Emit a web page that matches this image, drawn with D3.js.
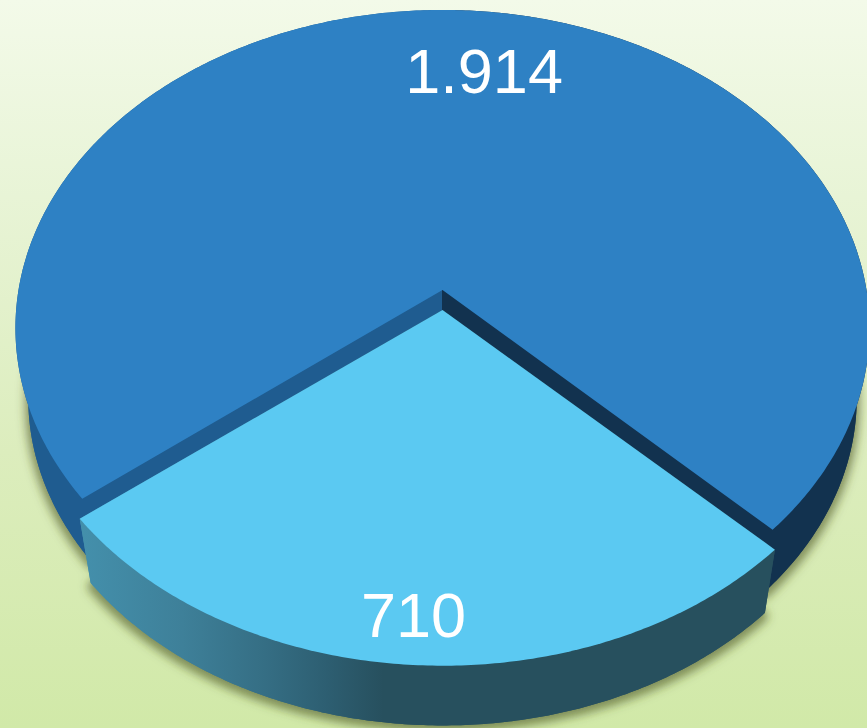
<!DOCTYPE html>
<html>
<head>
<meta charset="utf-8">
<script src="https://cdn.jsdelivr.net/npm/d3@7"></script>
<style>
html,body{margin:0;padding:0;background:#fff;overflow:hidden}
svg{display:block}
text{font-family:"Liberation Sans",Arial,sans-serif;fill:#fff}
</style>
</head>
<body>
<svg id="c" width="867" height="728"></svg>
<script>
// data
const categories = ["A", "B"];
const values = [1914, 710];
const labels = ["1.914", "710"];
const topColors = ["#2e81c4", "#5bc9f2"];

// layout of the perspective pie
const W = 867, H = 728;
const X0 = 442.5, Y0 = 290;      // projected pie centre
const A = 424, B = 313.5, K = 0.1195; // perspective ellipse
const DEPTH_SCALE = 0.97, DEPTH_DY = 71;
const EXPLODE = [0, 0.0633];
const SQUASH = [1, 0.985];     // depth-wise flattening per slice
const START = 231.9 * Math.PI / 180;
const LABEL_RADIUS = [0.77, 0.875];
const LABEL_SHIFT = [4.8, 0.8]; // degrees
const LABEL_SIZE = 63;

const svg = d3.select("#c");
const defs = svg.append("defs");

const bg = defs.append("linearGradient").attr("id", "bg").attr("x1", 0).attr("y1", 0).attr("x2", 0).attr("y2", 1);
[[0, "#f3fae9"], [0.27, "#e8f4d6"], [0.62, "#dcedbd"], [1, "#d1e9a8"]].forEach(s => bg.append("stop").attr("offset", s[0]).attr("stop-color", s[1]));

const rim = defs.append("linearGradient").attr("id", "rim").attr("gradientUnits", "userSpaceOnUse")
  .attr("x1", 0).attr("y1", 0).attr("x2", W).attr("y2", 0);
[[0, "#1f5c90"], [0.51, "#1f5c90"], [0.51, "#12324f"], [1, "#12324f"]].forEach(s => rim.append("stop").attr("offset", s[0]).attr("stop-color", s[1]));

const side = defs.append("linearGradient").attr("id", "side").attr("gradientUnits", "userSpaceOnUse")
  .attr("x1", 78).attr("y1", 0).attr("x2", 772).attr("y2", 0);
[[0, "#4490ac"], [0.15, "#3e8099"], [0.27, "#356e84"], [0.36, "#2d5e71"], [0.44, "#27505e"], [1, "#27505e"]].forEach(s => side.append("stop").attr("offset", s[0]).attr("stop-color", s[1]));

const sh = defs.append("filter").attr("id", "shadow").attr("x", "-10%").attr("y", "-10%").attr("width", "120%").attr("height", "125%");
sh.append("feMorphology").attr("in", "SourceAlpha").attr("operator", "dilate").attr("radius", 3).attr("result", "d");
sh.append("feGaussianBlur").attr("in", "d").attr("stdDeviation", 5).attr("result", "b");
sh.append("feOffset").attr("in", "b").attr("dx", 0).attr("dy", 3).attr("result", "o");
sh.append("feFlood").attr("flood-color", "#46501e").attr("flood-opacity", 0.6);
sh.append("feComposite").attr("in2", "o").attr("operator", "in");

svg.append("rect").attr("width", W).attr("height", H).attr("fill", "url(#bg)");

// projection: unit-disc point plus explosion, at top (z=0) or bottom (z=1) plane
function project(u, v, z) {
  const w = 1 - K * v;
  const s = z ? DEPTH_SCALE : 1;
  return [X0 + s * A * u / w, Y0 + s * B * v / w + (z ? DEPTH_DY : 0)];
}
function polar(angle, r, ex, squash, z) {
  return project(r * Math.sin(angle) + ex[0], -r * Math.cos(angle) * squash + ex[1], z);
}
function arcPts(a0, a1, ex, squash, z) {
  const n = Math.max(2, Math.ceil(Math.abs(a1 - a0) / 0.01));
  return d3.range(n + 1).map(i => polar(a0 + (a1 - a0) * i / n, 1, ex, squash, z));
}
const line = d3.line();

const pie = d3.pie().sort(null).startAngle(START).endAngle(START + 2 * Math.PI);
const arcs = pie(values);

// shadow layer: bottom planes only, behind every slice
const shadowLayer = svg.append("g").attr("class", "shadow").attr("filter", "url(#shadow)");
arcs.forEach((d, i) => {
  const ex = i === 1 ? EXPLODE : [0, 0];
  const bot = arcPts(d.startAngle, d.endAngle, ex, SQUASH[i], 1);
  shadowLayer.append("path").attr("d", line([polar(0, 0, ex, SQUASH[i], 1), ...bot]) + "Z").attr("fill", "#000");
});

function drawSolid(g, d, i) {
  const ex = i === 1 ? EXPLODE : [0, 0];
  const q = SQUASH[i];
  const top = arcPts(d.startAngle, d.endAngle, ex, q, 0);
  const bot = arcPts(d.startAngle, d.endAngle, ex, q, 1);
  const c0 = polar(0, 0, ex, q, 0), c1 = polar(0, 0, ex, q, 1);
  const fill = i === 1 ? "url(#side)" : "url(#rim)";
  // bottom plane, rim, radial walls
  g.append("path").attr("d", line([c1, ...bot]) + "Z").attr("fill", fill);
  g.append("path").attr("d", line([...top, ...bot.slice().reverse()]) + "Z").attr("fill", fill);
  const s0 = top[0], e0 = top[top.length - 1];
  const s1 = bot[0], e1 = bot[bot.length - 1];
  g.append("path").attr("d", line([c0, s0, s1, c1]) + "Z").attr("fill", fill);
  g.append("path").attr("d", line([c0, e0, e1, c1]) + "Z").attr("fill", fill);
  g.append("path").attr("d", line([c0, ...top]) + "Z").attr("fill", topColors[i]);
}

arcs.forEach((d, i) => drawSolid(svg.append("g").attr("class", "slice " + categories[i]), d, i));

arcs.forEach((d, i) => {
  const ex = i === 1 ? EXPLODE : [0, 0];
  const mid = (d.startAngle + d.endAngle) / 2 + LABEL_SHIFT[i] * Math.PI / 180;
  const p = polar(mid, LABEL_RADIUS[i], ex, SQUASH[i], 0);
  svg.append("text").attr("x", p[0]).attr("y", p[1]).attr("dy", "0.35em")
    .attr("text-anchor", "middle").attr("font-size", LABEL_SIZE).text(labels[i]);
});
</script>
</body>
</html>
